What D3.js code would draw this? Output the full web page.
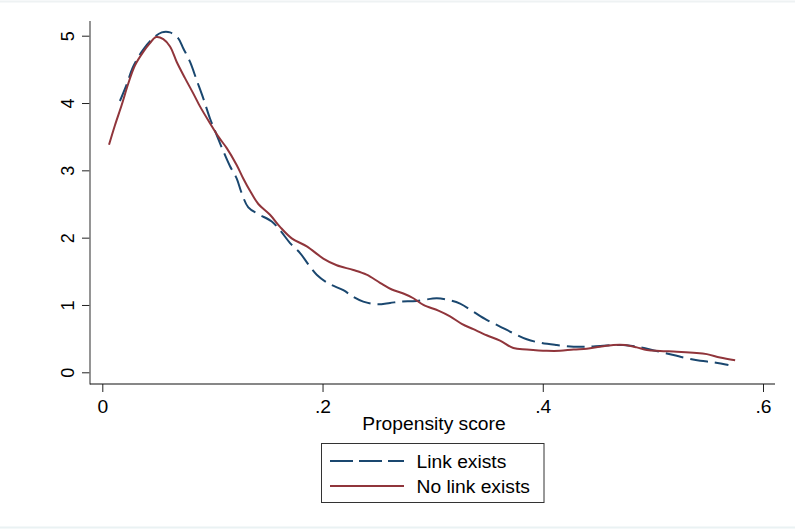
<!DOCTYPE html>
<html>
<head>
<meta charset="utf-8">
<script src="https://cdn.jsdelivr.net/npm/d3@7"></script>
<style>
  html, body { margin: 0; padding: 0; background: #fff; }
  text { font-family: "Liberation Sans", Arial, sans-serif; fill: #000; }
</style>
</head>
<body>
<div id="chart"></div>
<script>
// kernel density of propensity score
var linkScore = [.016, .022, .028, .037, .046, .054, .0615, .069, .0736, .0797, .0857, .0917, .0978, .104, .110, .116,
  .122, .1266, .1326, .1417, .1539, .1614, .1705, .1796, .1886, .1947, .2053, .2189, .228, .237, .2493, .2613, .2704,
  .2856, .3037, .3128, .3249, .337, .349, .3612, .3733, .3855, .3975, .4127, .428, .44, .455, .473, .4854, .4975,
  .5126, .5277, .543, .555, .5686];
var linkDensity = [4.03, 4.27, 4.54, 4.79, 4.96, 5.05, 5.05, 4.96, 4.81, 4.61, 4.34, 4.07, 3.77, 3.52, 3.28, 3.06,
  2.88, 2.66, 2.45, 2.35, 2.24, 2.11, 1.92, 1.77, 1.57, 1.45, 1.32, 1.22, 1.12, 1.05, 1.01, 1.03, 1.05,
  1.06, 1.10, 1.08, 1.02, 0.90, 0.78, 0.68, 0.58, 0.49, 0.44, 0.405, 0.38, 0.38, 0.395, 0.405, 0.38, 0.34,
  0.28, 0.22, 0.17, 0.15, 0.11];

var noLinkScore = [.0061, .0115, .0176, .0236, .0297, .0372, .0433, .0488, .0554, .0615, .0676, .0751, .0827, .0887,
  .0978, .1054, .113, .122, .128, .134, .1417, .1523, .1614, .172, .1857, .2007, .2129, .228, .240, .2522, .2629,
  .2734, .2825, .2916, .3052, .3158, .3264, .337, .349, .3612, .3733, .3855, .4036, .4157, .428, .44, .452, .4641,
  .4748, .4854, .4945, .5065, .5217, .5368, .549, .561, .5747];
var noLinkDensity = [3.38, 3.67, 3.97, 4.29, 4.56, 4.76, 4.89, 4.98, 4.95, 4.84, 4.61, 4.37, 4.14, 3.95,
  3.70, 3.50, 3.33, 3.08, 2.88, 2.70, 2.50, 2.34, 2.16, 1.99, 1.87, 1.69, 1.59, 1.52, 1.45, 1.33, 1.23,
  1.17, 1.10, 1.00, 0.915, 0.83, 0.72, 0.64, 0.55, 0.47, 0.36, 0.34, 0.32, 0.32, 0.34, 0.35, 0.38, 0.405,
  0.405, 0.37, 0.33, 0.316, 0.306, 0.29, 0.27, 0.22, 0.18];

var xTicks = [0, 0.2, 0.4, 0.6];
var xTickLabels = ["0", ".2", ".4", ".6"];
var yTicks = [0, 1, 2, 3, 4, 5];
var seriesNames = ["Link exists", "No link exists"];

var width = 795, height = 529;
var stretch = 1.07; // the picture is a bit wider than tall text would be

var svg = d3.select("#chart").append("svg")
  .attr("width", width)
  .attr("height", height);

// faint frame of the graph region
svg.append("line").attr("x1", 0).attr("x2", width).attr("y1", 1.5).attr("y2", 1.5)
  .attr("stroke", "#eef2f3").attr("stroke-width", 2);
svg.append("line").attr("x1", 0).attr("x2", width).attr("y1", 527.5).attr("y2", 527.5)
  .attr("stroke", "#eaf2f3").attr("stroke-width", 2);

var x = d3.scaleLinear().domain([0, 0.6]).range([102.3, 763]);
var y = d3.scaleLinear().domain([0, 5]).range([372.3, 35.7]);

// y axis
var yAxis = svg.append("g")
  .attr("transform", "translate(90,0)")
  .call(d3.axisLeft(y).tickValues(yTicks).tickSize(8).tickFormat(d3.format("d")));
yAxis.select(".domain").remove();
yAxis.selectAll(".tick line").attr("stroke", "#222");
yAxis.selectAll(".tick text")
  .attr("x", null).attr("dy", null)
  .attr("transform", "translate(-16,0) rotate(-90) scale(1," + stretch + ")")
  .attr("text-anchor", "middle")
  .attr("font-size", 18)
  .attr("fill", "#000");
svg.append("line")
  .attr("x1", 90).attr("x2", 90).attr("y1", 21).attr("y2", 384.5)
  .attr("stroke", "#7a7a7a").attr("stroke-width", 1.6);

// x axis
var xAxis = svg.append("g")
  .attr("transform", "translate(0,384)")
  .call(d3.axisBottom(x).tickValues(xTicks).tickSize(8).tickFormat(function(d, i) { return xTickLabels[i]; }));
xAxis.select(".domain").remove();
xAxis.selectAll(".tick line").attr("stroke", "#222");
xAxis.selectAll(".tick text")
  .attr("y", null).attr("dy", null)
  .attr("transform", "translate(0,29) scale(" + stretch + ",1)")
  .attr("text-anchor", "middle")
  .attr("font-size", 18)
  .attr("fill", "#000");
svg.append("line")
  .attr("x1", 90).attr("x2", 775).attr("y1", 384).attr("y2", 384)
  .attr("stroke", "#111").attr("stroke-width", 1.2);

svg.append("text")
  .attr("transform", "translate(434,430) scale(" + stretch + ",1)")
  .attr("text-anchor", "middle")
  .attr("font-size", 18)
  .text("Propensity score");

// density curves
function curve(xs, ys) {
  return d3.line()
    .x(function(d, i) { return x(xs[i]); })
    .y(function(d, i) { return y(ys[i]); })
    .curve(d3.curveCatmullRom)(xs);
}

svg.append("path")
  .attr("d", curve(linkScore, linkDensity))
  .attr("fill", "none")
  .attr("stroke", "#1a476f")
  .attr("stroke-width", 2)
  .attr("stroke-dasharray", "18,7");

svg.append("path")
  .attr("d", curve(noLinkScore, noLinkDensity))
  .attr("fill", "none")
  .attr("stroke", "#90353b")
  .attr("stroke-width", 2);

// legend
var legend = svg.append("g");
legend.append("rect")
  .attr("x", 321.5).attr("y", 443.5).attr("width", 222.5).attr("height", 59)
  .attr("fill", "#fff").attr("stroke", "#333").attr("stroke-width", 1);

var legendStyle = [
  { color: "#1a476f", dash: "23,6" },
  { color: "#90353b", dash: null }
];

seriesNames.forEach(function(name, i) {
  var ly = 461 + i * 25;
  legend.append("line")
    .attr("x1", 330).attr("x2", 404).attr("y1", ly).attr("y2", ly)
    .attr("stroke", legendStyle[i].color)
    .attr("stroke-width", 2)
    .attr("stroke-dasharray", legendStyle[i].dash);
  legend.append("text")
    .attr("transform", "translate(416.5," + (ly + 6.5) + ") scale(" + stretch + ",1)")
    .attr("font-size", 18)
    .text(name);
});
</script>
</body>
</html>
